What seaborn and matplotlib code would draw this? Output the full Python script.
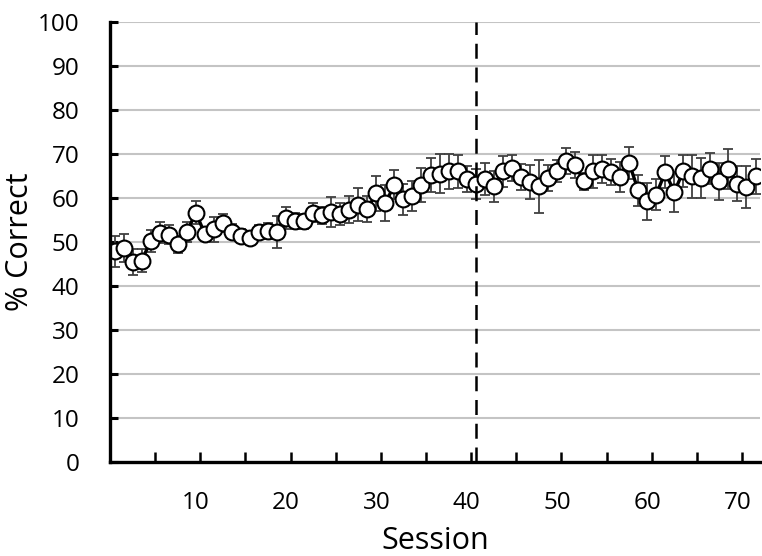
import numpy as np
import pandas as pd
import matplotlib
matplotlib.use("Agg")
import matplotlib.pyplot as plt
import seaborn as sns
from matplotlib.ticker import FixedLocator

# values
sessions = np.arange(1, 73)
pct_correct = [
    47.9, 48.6, 45.5, 45.8, 50.2, 52.1, 51.7, 49.5, 52.3, 56.7,
    51.9, 52.9, 54.3, 52.4, 51.5, 50.9, 52.4, 52.5, 52.3, 55.5,
    54.9, 54.7, 56.7, 56.1, 56.8, 56.3, 57.4, 58.5, 57.6, 61.1,
    58.9, 63.0, 59.7, 60.5, 63.0, 65.3, 65.6, 66.1, 66.1, 64.4,
    63.3, 64.4, 62.7, 66.1, 66.9, 64.8, 63.7, 62.7, 64.6, 66.1,
    68.4, 67.6, 63.8, 66.1, 66.7, 65.9, 64.8, 68.0, 61.8, 59.3,
    60.8, 65.9, 61.4, 66.1, 65.0, 64.6, 66.7, 63.8, 66.6, 63.3,
    62.5, 65.0,
]
sem = [
    3.5, 3.2, 3.0, 2.6, 2.5, 2.4, 2.2, 2.0, 2.3, 2.6,
    1.5, 2.8, 2.0, 1.8, 1.5, 1.2, 1.5, 1.8, 3.6, 2.5,
    1.8, 1.8, 2.2, 2.0, 3.4, 2.5, 3.0, 3.8, 3.0, 4.0,
    4.0, 3.3, 3.5, 3.5, 3.8, 3.8, 4.5, 4.0, 3.7, 3.0,
    3.4, 3.7, 3.5, 3.5, 3.0, 3.0, 3.9, 6.0, 3.0, 2.5,
    3.0, 3.0, 2.0, 3.8, 3.2, 3.0, 3.5, 3.7, 3.5, 4.2,
    3.5, 3.7, 4.6, 3.6, 4.9, 4.5, 3.5, 4.3, 4.5, 4.0,
    4.8, 4.0,
]
x_labels = [10, 20, 30, 40, 50, 60, 70]
switch_session = 41

df = pd.DataFrame({"Session": sessions, "Correct": pct_correct, "SEM": sem})

sns.set_theme(style="white")
plt.rcParams["font.family"] = ["Open Sans", "DejaVu Sans"]
plt.rcParams["text.color"] = "black"
plt.rcParams["xtick.color"] = "black"
plt.rcParams["ytick.color"] = "black"
plt.rcParams["axes.labelcolor"] = "black"

fig = plt.figure(figsize=(7.62, 5.56), dpi=100)
ax = fig.add_axes([0.1444, 0.169, 0.853, 0.791])

# light gridlines
for v in range(10, 101, 10):
    ax.axhline(v, color="#c4c4c4", lw=1.5, zorder=0)

ax.errorbar(df["Session"], df["Correct"], yerr=df["SEM"], fmt="none",
            ecolor="#404040", elinewidth=1.3, capsize=3.5, capthick=1.3, zorder=2)
sns.lineplot(data=df, x="Session", y="Correct", ax=ax, color="black",
             lw=2.4, zorder=3)
sns.scatterplot(data=df, x="Session", y="Correct", ax=ax, s=130,
                color="white", edgecolor="black", linewidth=1.5, zorder=4)

ax.axvline(switch_session, color="black", lw=1.8, ls=(0, (6, 3.5)), zorder=5)

ax.set_xlim(0.5, 72.5)
ax.set_ylim(0, 100)

# x: tick marks between categories, labels on categories
ax.xaxis.set_major_locator(FixedLocator(x_labels))
ax.xaxis.set_minor_locator(FixedLocator(np.arange(5.5, 72, 5)))
ax.set_xticklabels([str(v) for v in x_labels])
ax.tick_params(axis="x", which="major", length=0, pad=21, labelsize=17.5)
ax.tick_params(axis="x", which="minor", direction="in", length=7,
               width=1.8, color="black", bottom=True)
ax.set_yticks(range(0, 101, 10))
ax.tick_params(axis="y", direction="in", length=6, width=2.2,
               color="black", left=True, pad=22, labelsize=17.5)

for side in ["top", "right"]:
    ax.spines[side].set_visible(False)
for side in ["left", "bottom"]:
    ax.spines[side].set_color("black")
    ax.spines[side].set_linewidth(2.4)
    ax.spines[side].set_zorder(6)

ax.set_xlabel("Session", fontsize=22, labelpad=8)
ax.set_ylabel("% Correct", fontsize=22, labelpad=2)

fig.savefig("out.png", dpi=100)
